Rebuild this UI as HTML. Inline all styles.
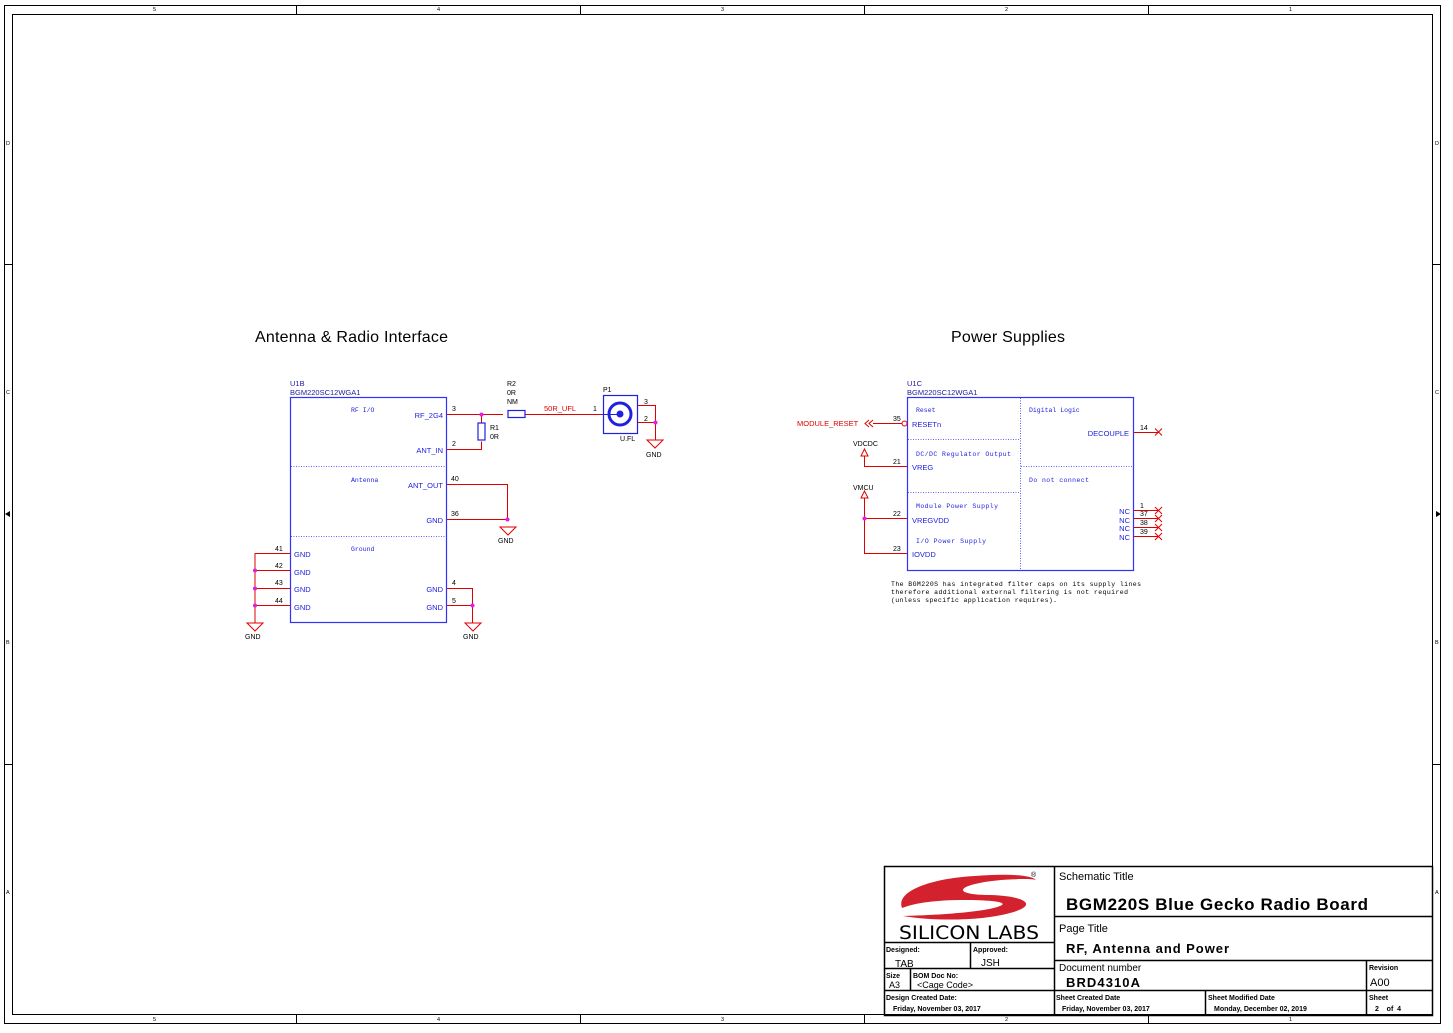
<!DOCTYPE html>
<html><head><meta charset="utf-8"><style>
html,body{margin:0;padding:0;background:#fff;}
svg{display:block;font-family:"Liberation Sans",sans-serif;}
.b{fill:#2020e0;font-size:7.5px}
.m{fill:#2020e0;font-size:6.5px;font-family:"Liberation Mono",monospace}
.k{fill:#000;font-size:7px}
.r{fill:#e00000;font-size:7.5px}
</style></head><body>
<svg width="1453" height="1033" viewBox="0 0 1453 1033" xmlns="http://www.w3.org/2000/svg">
<rect x="0" y="0" width="1453" height="1033" fill="#fff"/>
<g stroke="#000" fill="none" stroke-width="1">
<rect x="4.5" y="5.5" width="1436" height="1018"/>
<rect x="12.5" y="14.5" width="1420" height="1000"/>
<path d="M296.5 5v9M580.5 5v9M864.5 5v9M1148.5 5v9M296.5 1015v9M580.5 1015v9M864.5 1015v9M1148.5 1015v9M4 264.5h8M4 764.5h8M1433 264.5h8M1433 764.5h8"/>
</g>
<g class="k" style="font-size:5.5px">
<text x="153" y="11">5</text><text x="437" y="11">4</text><text x="721" y="11">3</text><text x="1005" y="11">2</text><text x="1289" y="11">1</text>
<text x="153" y="1021">5</text><text x="437" y="1021">4</text><text x="721" y="1021">3</text><text x="1005" y="1021">2</text><text x="1289" y="1021">1</text>
<text x="6" y="145">D</text><text x="6" y="394">C</text><text x="6" y="644">B</text><text x="6" y="894">A</text>
<text x="1435" y="145">D</text><text x="1435" y="394">C</text><text x="1435" y="644">B</text><text x="1435" y="894">A</text>
</g>
<path d="M5 514l5-3v6zM1441 514l-5-3v6z" fill="#000"/>

<text x="255" y="342" style="font-size:16px" textLength="193">Antenna &amp; Radio Interface</text>
<text x="951" y="342" style="font-size:16px" textLength="114">Power Supplies</text>

<rect x="290.5" y="397.5" width="156" height="225" fill="none" stroke="#3030ff" stroke-width="1.2"/>
<path d="M291 466.5h155M291 536.5h155" stroke="#3030ff" stroke-dasharray="1,1.5" stroke-width="0.8"/>
<text x="290" y="386" class="b" style="fill:#2020a0">U1B</text>
<text x="290" y="395" class="b" style="fill:#2020a0">BGM220SC12WGA1</text>
<text x="351" y="412" class="m">RF I/O</text>
<text x="351" y="482" class="m">Antenna</text>
<text x="351" y="551" class="m">Ground</text>
<text x="443" y="418" class="b" text-anchor="end">RF_2G4</text>
<text x="443" y="453" class="b" text-anchor="end">ANT_IN</text>
<text x="443" y="488" class="b" text-anchor="end">ANT_OUT</text>
<text x="443" y="523" class="b" text-anchor="end">GND</text>
<text x="443" y="592" class="b" text-anchor="end">GND</text>
<text x="443" y="610" class="b" text-anchor="end">GND</text>
<text x="294" y="557" class="b">GND</text>
<text x="294" y="575" class="b">GND</text>
<text x="294" y="592" class="b">GND</text>
<text x="294" y="610" class="b">GND</text>
<g stroke="#e00000" fill="none" stroke-width="1">
<path d="M447 414.5h56M525 414.5h76M447 449.5h34.5v-8M481.5 423v-8.5M447 484.5h60.5v34M447 519.5h60.5M447 588.5h25.5v17M447 605.5h25.5v17M290 553.5h-35v69M290 570.5h-35M290 588.5h-35M290 605.5h-35"/>
<path d="M638 405.5h17.5v17M638 422.5h17.5v17"/>
<path d="M500 527h16l-8 8zM647 440h16l-8 8zM465 623h16l-8 8zM247 623h16l-8 8z"/>
</g>
<g class="k" style="font-size:7px">
<text x="452" y="411">3</text><text x="452" y="446">2</text><text x="451" y="481">40</text><text x="451" y="516">36</text>
<text x="452" y="585">4</text><text x="452" y="603">5</text>
<text x="275" y="551">41</text><text x="275" y="568">42</text><text x="275" y="585">43</text><text x="275" y="603">44</text>
<text x="498" y="543">GND</text><text x="646" y="457">GND</text><text x="463" y="639">GND</text><text x="245" y="639">GND</text>
<text x="507" y="386">R2</text><text x="507" y="395">0R</text><text x="507" y="404">NM</text>
<text x="490" y="430">R1</text><text x="490" y="439">0R</text>
<text x="603" y="392">P1</text><text x="620" y="441">U.FL</text>
<text x="593" y="411">1</text><text x="644" y="404">3</text><text x="644" y="421">2</text>
</g>
<text x="544" y="411" class="r">50R_UFL</text>
<rect x="508" y="410.5" width="17" height="7" fill="#fff" stroke="#2020e0" stroke-width="1.2"/>
<rect x="478" y="423" width="7" height="17" fill="#fff" stroke="#2020e0" stroke-width="1.2"/>
<rect x="603.5" y="395.5" width="34" height="38" fill="#fff" stroke="#2020e0" stroke-width="1.2"/>
<circle cx="620" cy="414" r="11" fill="none" stroke="#2020e0" stroke-width="3"/>
<circle cx="620" cy="414" r="3.5" fill="#2020e0"/>
<path d="M601 414.5h19" stroke="#2020e0"/>
<g fill="#e020e0">
<circle cx="481.5" cy="414.5" r="2"/><circle cx="507.5" cy="519.5" r="2"/><circle cx="472.5" cy="605.5" r="2"/><circle cx="655.5" cy="422.5" r="2"/>
<circle cx="255" cy="570.5" r="2"/><circle cx="255" cy="588.5" r="2"/><circle cx="255" cy="605.5" r="2"/>
</g>

<rect x="907.5" y="397.5" width="226" height="173" fill="none" stroke="#3030ff" stroke-width="1.2"/>
<path d="M1020.5 398v172M908 439.5h112M908 492.5h112M1021 466.5h112" stroke="#3030ff" stroke-dasharray="1,1.5" stroke-width="0.8"/>
<text x="907" y="386" class="b" style="fill:#2020a0">U1C</text>
<text x="907" y="395" class="b" style="fill:#2020a0">BGM220SC12WGA1</text>
<text x="916" y="412" class="m">Reset</text>
<text x="1029" y="412" class="m">Digital Logic</text>
<text x="916" y="456" class="m" textLength="95">DC/DC Regulator Output</text>
<text x="1029" y="482" class="m" textLength="60">Do not connect</text>
<text x="916" y="508" class="m" textLength="82">Module Power Supply</text>
<text x="916" y="543" class="m" textLength="70">I/O Power Supply</text>
<text x="912" y="427" class="b">RESETn</text>
<text x="912" y="470" class="b">VREG</text>
<text x="912" y="523" class="b">VREGVDD</text>
<text x="912" y="557" class="b">IOVDD</text>
<text x="1129" y="436" class="b" text-anchor="end">DECOUPLE</text>
<text x="1130" y="514" class="b" text-anchor="end">NC</text>
<text x="1130" y="523" class="b" text-anchor="end">NC</text>
<text x="1130" y="531" class="b" text-anchor="end">NC</text>
<text x="1130" y="540" class="b" text-anchor="end">NC</text>
<g stroke="#e00000" fill="none" stroke-width="1">
<path d="M873 423.5h29M907 466.5h-42.5v-11M907 518.5h-42.5v-21M864.5 518.5v35h42.5M1134 432.5h25M1134 510.5h25M1134 518.5h25M1134 527.5h25M1134 536.5h25"/>
<circle cx="904.5" cy="423.5" r="2.5"/>
<path d="M873 420l-4 3.5 4 3.5M869 420l-4 3.5 4 3.5M861 456l3.5-7 3.5 7zM861 498l3.5-7 3.5 7z"/>
<path d="M1155 428.5l7 7M1162 428.5l-7 7M1155 507l7 7M1162 507l-7 7M1155 515l7 7M1162 515l-7 7M1155 524l7 7M1162 524l-7 7M1155 533l7 7M1162 533l-7 7"/>
</g>
<circle cx="864.5" cy="518.5" r="2" fill="#e020e0"/>
<text x="797" y="426" class="r">MODULE_RESET</text>
<g class="k" style="font-size:7px">
<text x="893" y="421">35</text><text x="893" y="464">21</text><text x="893" y="516">22</text><text x="893" y="551">23</text>
<text x="853" y="446">VDCDC</text><text x="853" y="490">VMCU</text>
<text x="1140" y="430">14</text><text x="1140" y="508">1</text><text x="1140" y="516">37</text><text x="1140" y="525">38</text><text x="1140" y="534">39</text>
</g>
<g style="font-size:6.5px;font-family:'Liberation Mono',monospace" fill="#000">
<text x="891" y="586" textLength="250">The BGM220S has integrated filter caps on its supply lines</text>
<text x="891" y="594" textLength="237">therefore additional external filtering is not required</text>
<text x="891" y="602" textLength="166">(unless specific application requires).</text>
</g>

<g stroke="#000" fill="none" stroke-width="1.5">
<rect x="884.5" y="866.5" width="548" height="149"/>
<path d="M1054.5 866v149M1054 916.5h378M1054 960.5h378M884 942.5h170M884 968.5h170M884 990.5h548M970.5 942v26M910.5 968v22M1205.5 990v25M1366.5 960v55"/>
</g>
<g>
<path d="M902 908 C895 890 935 878 975 876 C1000 874 1030 874 1036 880 C1030 878 995 879 975 884 C955 889 960 895 990 895 C1025 896 1040 905 1010 913 C985 920 940 922 903 916 C940 915 985 912 1000 906 C1010 902 990 900 965 900 C935 900 915 903 902 908 Z" fill="#d3212e"/>
<text x="1031" y="877" style="font-size:7px">®</text>
<text x="899" y="939" style="font-size:19px;font-family:'DejaVu Sans',sans-serif" textLength="140" lengthAdjust="spacingAndGlyphs">SILICON LABS</text>
</g>
<g fill="#000">
<text x="1059" y="880" style="font-size:11px">Schematic Title</text>
<text x="1066" y="910" style="font-size:17px;font-weight:bold" textLength="302">BGM220S Blue Gecko Radio Board</text>
<text x="1059" y="932" style="font-size:11px">Page Title</text>
<text x="1066" y="953" style="font-size:13px;font-weight:bold" textLength="163">RF, Antenna and Power</text>
<text x="1059" y="971" style="font-size:10px">Document number</text>
<text x="1066" y="987" style="font-size:13px;font-weight:bold" textLength="74">BRD4310A</text>
<text x="1369" y="970" style="font-size:7px;font-weight:bold">Revision</text>
<text x="1370" y="986" style="font-size:11px">A00</text>
<text x="886" y="952" style="font-size:7px;font-weight:bold">Designed:</text>
<text x="895" y="967" style="font-size:10px">TAB</text>
<text x="973" y="952" style="font-size:7px;font-weight:bold">Approved:</text>
<text x="981" y="966" style="font-size:10px">JSH</text>
<text x="886" y="978" style="font-size:7px;font-weight:bold">Size</text>
<text x="889" y="988" style="font-size:9px">A3</text>
<text x="913" y="978" style="font-size:7px;font-weight:bold">BOM Doc No:</text>
<text x="917" y="988" style="font-size:9px">&lt;Cage Code&gt;</text>
<text x="886" y="1000" style="font-size:7px;font-weight:bold">Design Created Date:</text>
<text x="893" y="1011" style="font-size:7px;font-weight:bold">Friday, November 03, 2017</text>
<text x="1056" y="1000" style="font-size:7px;font-weight:bold">Sheet Created Date</text>
<text x="1062" y="1011" style="font-size:7px;font-weight:bold">Friday, November 03, 2017</text>
<text x="1208" y="1000" style="font-size:7px;font-weight:bold">Sheet Modified Date</text>
<text x="1214" y="1011" style="font-size:7px;font-weight:bold">Monday, December 02, 2019</text>
<text x="1369" y="1000" style="font-size:7px;font-weight:bold">Sheet</text>
<text x="1375" y="1011" style="font-size:7px;font-weight:bold">2 &#160;&#160; of &#160;4</text>
</g>
</svg>
</body></html>
